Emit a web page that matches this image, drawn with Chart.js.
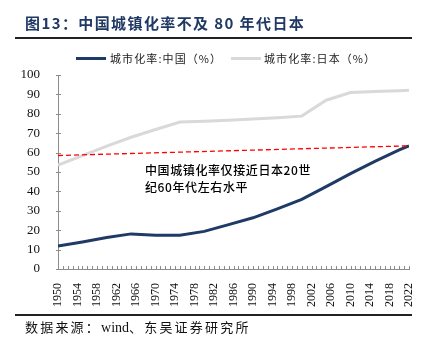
<!DOCTYPE html>
<html><head><meta charset="utf-8">
<script src="https://cdn.jsdelivr.net/npm/chart.js@4/dist/chart.umd.min.js"></script>
<style>
html,body{margin:0;padding:0;background:#fff;}
#wrap{position:relative;width:435px;height:355px;overflow:hidden;font-family:"Noto Sans CJK SC",sans-serif;}
#c{position:absolute;left:0;top:0;}
.t{position:absolute;white-space:nowrap;}
#title{left:25px;top:12px;font-size:15px;font-weight:bold;color:#1F3864;letter-spacing:1.4px;}
#rule1{position:absolute;left:15px;top:37px;width:397px;height:2px;background:#222;}
#rule2{position:absolute;left:15px;top:314px;width:397px;height:2px;background:#222;}
#src{left:25px;top:317px;font-size:13px;color:#111;letter-spacing:2.2px;}
#src .w{font-family:"Liberation Serif",serif;font-size:14px;letter-spacing:0;}
.lg{position:absolute;height:3px;top:57px;width:30px;}
.lt{font-size:11px;color:#222;top:50px;letter-spacing:1.1px;}
#note{left:145px;top:161px;font-size:12px;line-height:17px;color:#000;letter-spacing:0.6px;font-weight:500;}
</style></head>
<body><div id="wrap">
<canvas id="c" width="435" height="355"></canvas>
<div class="t" id="title">图13：中国城镇化率不及 80 年代日本</div>
<div id="rule1"></div>
<div class="lg" id="lg1" style="left:76px"></div><div class="t lt" id="lt1" style="left:110px"></div>
<div class="lg" id="lg2" style="left:231px"></div><div class="t lt" id="lt2" style="left:264px"></div>
<div class="t" id="note">中国城镇化率仅接近日本20世<br>纪60年代左右水平</div>
<div id="rule2"></div>
<div class="t" id="src">数据来源：<span class="w">wind</span>、东吴证券研究所</div>
</div>
<script>
const years = [1950,1955,1960,1965,1970,1975,1980,1985,1990,1995,2000,2005,2010,2015,2020,2022];
const chinaRate = [11.8,13.9,16.2,18.1,17.4,17.4,19.4,22.9,26.4,31.0,35.9,42.5,49.2,55.5,61.4,63.5];
const japanRate = [53.6,58.4,63.3,67.9,71.9,75.8,76.2,76.7,77.3,78.0,78.8,87.0,91.0,91.5,91.9,92.1];
const refYears = [1950,2022];
const refLevel = [58.5,63.5];
const seriesNames = ['城市化率:中国（%）','城市化率:日本（%）'];
const colors = ['#1F3A64','#D9D9D9','#FF0000'];

const pts = (xs, ys) => xs.map((x,i)=>({x:x,y:ys[i]}));

document.getElementById('lg1').style.background = colors[0];
document.getElementById('lg2').style.background = colors[1];
document.getElementById('lt1').textContent = seriesNames[0];
document.getElementById('lt2').textContent = seriesNames[1];

const tickMarks = {
  id:'tickMarks',
  afterDraw(chart){
    const ctx = chart.ctx, xs = chart.scales.x, ys = chart.scales.y;
    ctx.save();
    ctx.strokeStyle = '#8c8c8c'; ctx.lineWidth = 1;
    ctx.beginPath();
    xs.ticks.forEach(t=>{
      const px = Math.round(xs.getPixelForValue(t.value))+0.5;
      ctx.moveTo(px, ys.bottom); ctx.lineTo(px, ys.bottom-3);
    });
    ys.ticks.forEach(t=>{
      const py = Math.round(ys.getPixelForValue(t.value))+0.5;
      ctx.moveTo(xs.left-2, py); ctx.lineTo(xs.left+3, py);
    });
    ctx.stroke();
    ctx.restore();
  }
};

new Chart(document.getElementById('c'), {
  type:'line',
  data:{datasets:[
    {label:seriesNames[0], data:pts(years,chinaRate), borderColor:colors[0], backgroundColor:colors[0], borderWidth:3, pointRadius:0, tension:0, order:1},
    {label:seriesNames[1], data:pts(years,japanRate), borderColor:colors[1], backgroundColor:colors[1], borderWidth:3, pointRadius:0, tension:0, order:2},
    {label:'ref', data:pts(refYears,refLevel), borderColor:colors[2], borderWidth:1.3, borderDash:[5,3], pointRadius:0, tension:0, order:0}
  ]},
  options:{
    responsive:false, animation:false,
    layout:{padding:{left:0,right:26,top:75,bottom:36}},
    plugins:{legend:{display:false}, title:{display:false}, tooltip:{enabled:false}},
    scales:{
      x:{type:'linear', min:1950, max:2022,
        grid:{display:false}, border:{display:true,color:'#8c8c8c',width:1},
        afterFit(s){s.height=50;},
        ticks:{stepSize:1, autoSkip:false, minRotation:90, maxRotation:90, padding:6,
          font:{family:'"Liberation Serif", serif', size:12}, color:'#111',
          callback:v=> ((v-1950)%4===0 ? String(v) : '')}
      },
      y:{min:0, max:100,
        grid:{display:false}, border:{display:true,color:'#8c8c8c',width:1},
        afterFit(s){s.width=58;},
        ticks:{stepSize:10, padding:10, font:{family:'"Liberation Serif", serif', size:13}, color:'#111'}
      }
    }
  },
  plugins:[tickMarks]
});
</script>
</body></html>
